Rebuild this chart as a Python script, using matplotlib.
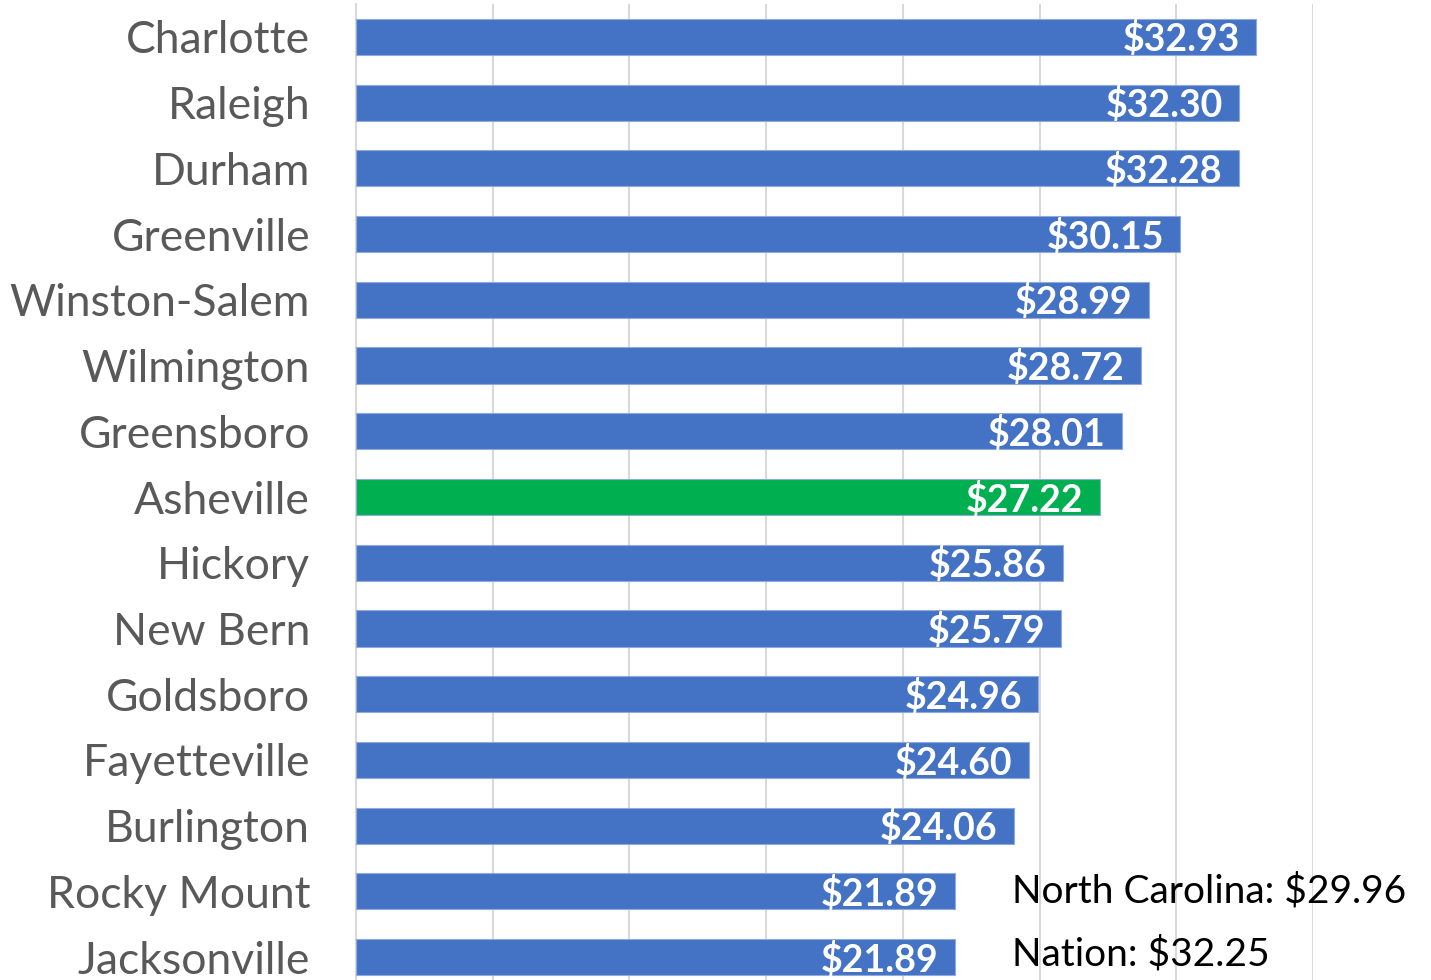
import matplotlib.pyplot as plt
import numpy as np

plt.rcParams['font.family'] = ['Lato', 'DejaVu Sans']

# Median hourly wage by metro area
cities = ['Charlotte', 'Raleigh', 'Durham', 'Greenville', 'Winston-Salem',
          'Wilmington', 'Greensboro', 'Asheville', 'Hickory', 'New Bern',
          'Goldsboro', 'Fayetteville', 'Burlington', 'Rocky Mount', 'Jacksonville']
wages = [32.93, 32.30, 32.28, 30.15, 28.99, 28.72, 28.01, 27.22,
         25.86, 25.79, 24.96, 24.60, 24.06, 21.89, 21.89]
highlight = 'Asheville'
notes = ['North Carolina: $29.96', 'Nation: $32.25']

blue = '#4472C4'
green = '#00B050'
colors = [green if c == highlight else blue for c in cities]

fig = plt.figure(figsize=(14.31, 9.80), dpi=100)
ax = fig.add_axes([356 / 1431, -10 / 980, 957 / 1431, 986 / 980])

y = np.arange(len(cities))
ax.barh(y, wages, height=0.55, color=colors, edgecolor='#8FAADC',
        linewidth=0.8, zorder=3)

for yi, w in zip(y, wages):
    ax.text(w - 0.6, yi + 0.04, f'${w:.2f}', ha='right', va='center',
            color='white', fontsize=27, fontweight='bold', zorder=4)

ax.set_xlim(0, 35)
ax.set_ylim(len(cities) - 0.5, -0.5)
ax.set_xticks(np.arange(0, 36, 5))
ax.set_xticklabels([])
ax.tick_params(axis='x', length=0)
ax.set_yticks(y)
ax.set_yticklabels(cities, fontsize=32, color='#595959')
ax.tick_params(axis='y', length=0, pad=33)
ax.grid(axis='x', color='#D9D9D9', linewidth=1.5, zorder=0)

for s in ['top', 'right', 'bottom']:
    ax.spines[s].set_visible(False)
ax.spines['left'].set_color('#D9D9D9')
ax.spines['left'].set_linewidth(1.5)

# summary notes next to the two shortest bars
ax.text(24.0, 13, notes[0], ha='left', va='center', fontsize=28, color='black')
ax.text(24.0, 13.95, notes[1], ha='left', va='center', fontsize=28, color='black')

fig.savefig('out.png', dpi=100)
